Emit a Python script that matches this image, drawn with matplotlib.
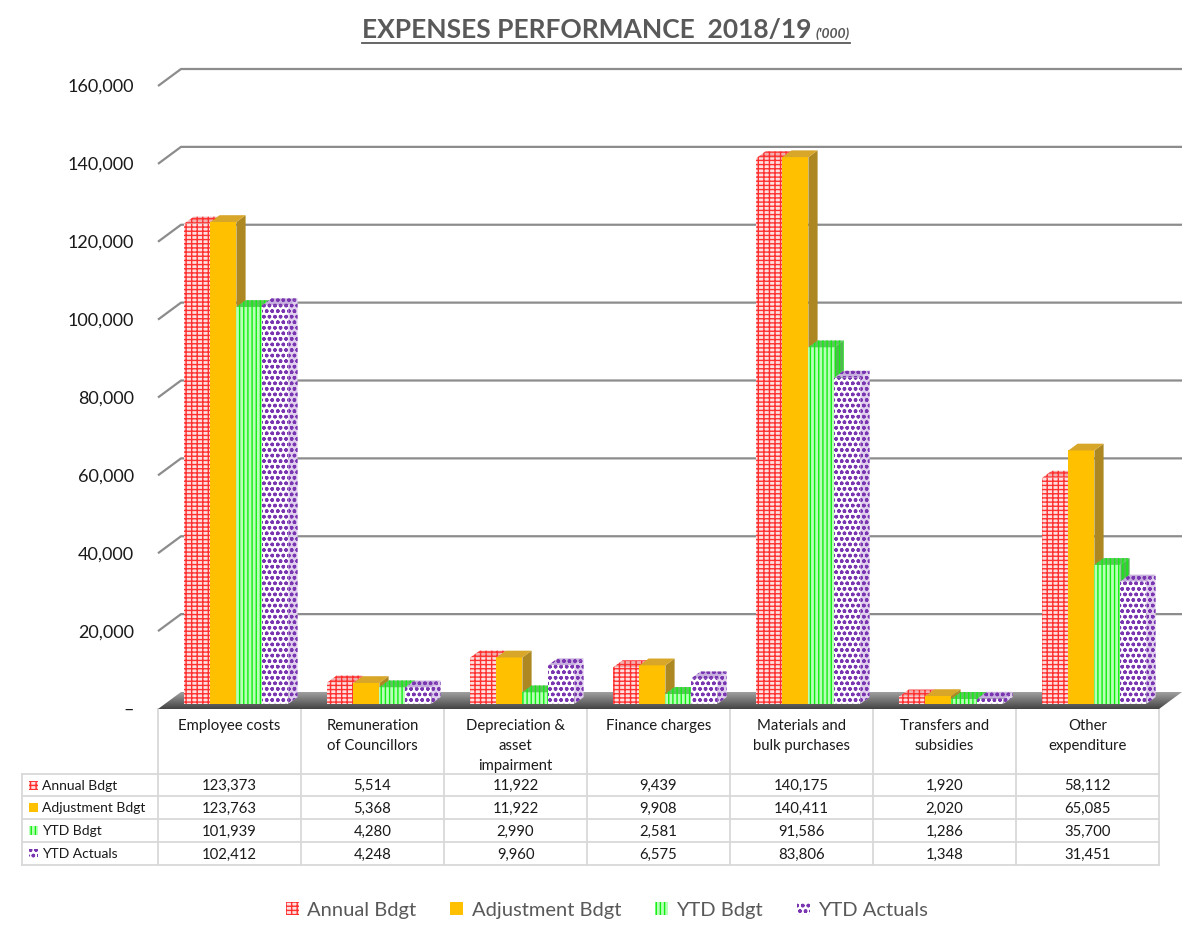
import numpy as np
import matplotlib.pyplot as plt
import matplotlib.transforms as mtransforms
from matplotlib.patches import Polygon, Rectangle, Patch

plt.rcParams['font.family'] = ['Lato', 'DejaVu Sans']
plt.rcParams['hatch.linewidth'] = 1.0

categories = ["Employee costs", "Remuneration\nof Councillors", "Depreciation &\nasset\nimpairment",
              "Finance charges", "Materials and\nbulk purchases", "Transfers and\nsubsidies",
              "Other\nexpenditure"]
series = ["Annual Bdgt", "Adjustment Bdgt", "YTD Bdgt", "YTD Actuals"]
annual_bdgt = [123373, 5514, 11922, 9439, 140175, 1920, 58112]
adjustment_bdgt = [123763, 5368, 11922, 9908, 140411, 2020, 65085]
ytd_bdgt = [101939, 4280, 2990, 2581, 91586, 1286, 35700]
ytd_actuals = [102412, 4248, 9960, 6575, 83806, 1348, 31451]
yticks = [0, 20000, 40000, 60000, 80000, 100000, 120000, 140000, 160000]

values = [annual_bdgt, adjustment_bdgt, ytd_bdgt, ytd_actuals]

# face / top / side colours and hatch for every series
styles = [
    dict(front='#ffe0e0', top='#f0b0b0', side='#f5c4c4', hatch='----|||', hc='#ff3030'),
    dict(front='#ffc000', top='#d8a628', side='#ad8822', hatch=None, hc=None),
    dict(front='#b8ffb8', top='#5ec45e', side='#52b852', hatch='||||', hc='#10ee10'),
    dict(front='white', top='#c8b0de', side='#e0d0ee', hatch='ooo...', hc='#7a35b0'),
]

W, H = 1195, 928
fig = plt.figure(figsize=(W / 100, H / 100), dpi=100)
ax = fig.add_axes([0, 0, 1, 1])

# pixel geometry of the plot (one category column = 143 px)
col_px, x0_px, y0_px = 143, 158, 710
vpp = 160000 / 623
ax.set_xlim(-0.5 - x0_px / col_px, -0.5 + (W - x0_px) / col_px)
ax.set_ylim(-(H - y0_px) * vpp, y0_px * vpp)
ax.axis('off')

n = len(categories)
dep_x, dep_y = 23 / col_px, 17 * vpp
bw = 26 / col_px
f0, fd = 0.3, 0.4

# floor with a gradient
floor = Polygon([(-0.5, 0), (n - 0.5, 0), (n - 0.5 + dep_x, dep_y), (-0.5 + dep_x, dep_y)],
                closed=True, facecolor='none', edgecolor='none')
ax.add_patch(floor)
grad = np.linspace(0, 1, 50).reshape(-1, 1)
im = ax.imshow(grad, extent=(-0.5, n - 0.5 + dep_x, 0, dep_y), origin='lower',
               cmap=plt.matplotlib.colors.LinearSegmentedColormap.from_list('fl', ['#444444', '#a0a0a0']),
               aspect='auto', zorder=1)
im.set_clip_path(floor)

# gridlines on the back wall with the left diagonal
for v in yticks[1:]:
    ax.plot([-0.5, -0.5 + dep_x, n - 0.5 + dep_x], [v, v + dep_y, v + dep_y],
            color='#8c8c8c', lw=1.6, zorder=0.5, solid_capstyle='butt')

# y labels
for v in yticks:
    ax.text(-0.5 - 24 / col_px, v, f"{v:,}" if v else "–", ha='right', va='center',
            fontsize=13, color='#1a1a1a')

# 3D bars
fx, fy = f0 * dep_x, f0 * dep_y
dx, dy = fd * dep_x, fd * dep_y
for i in range(n):
    left = i + fx - 2 * bw
    for j, vals in enumerate(values):
        v = vals[i]
        st = styles[j]
        x = left + j * bw
        kw = dict(edgecolor=st['hc'] if st['hc'] else 'none', linewidth=0, hatch=st['hatch'])
        side = Polygon([(x + bw, fy), (x + bw + dx, fy + dy), (x + bw + dx, fy + v + dy), (x + bw, fy + v)],
                       facecolor=st['side'], zorder=2, **kw)
        ax.add_patch(side)
        ax.bar(x, v, width=bw, bottom=fy, align='edge', color=st['front'], zorder=2, **kw)
        top = Polygon([(x, fy + v), (x + bw, fy + v), (x + bw + dx, fy + v + dy), (x + dx, fy + v + dy)],
                      facecolor=st['top'], zorder=2, **kw)
        ax.add_patch(top)

# title
title = fig.text(362 / W, 1 - 38 / H, "EXPENSES PERFORMANCE  2018/19", fontsize=19,
                 fontweight='bold', color='#595959', ha='left', va='baseline')
fig.canvas.draw()
r = fig.canvas.get_renderer()
bb = title.get_window_extent(r)
sub = fig.text(bb.x1 / W + 4 / W, 1 - 38 / H, "('000)", fontsize=10, fontstyle='italic',
               fontweight='bold', color='#595959', ha='left', va='baseline')
bb2 = sub.get_window_extent(r)
fig.add_artist(plt.Line2D([bb.x0 / W, bb2.x1 / W], [1 - 44 / H, 1 - 44 / H],
                          color='#595959', lw=1.3))

# data table
tr = mtransforms.blended_transform_factory(ax.transData, ax.transAxes)
ty = lambda px: 1 - px / H
row_lines = [775, 797, 820, 843, 866]
tbl_left = -0.5 - (x0_px - 22) / col_px
line_kw = dict(color='#d9d9d9', lw=1.3, transform=tr, zorder=0.5)
for k in range(n + 1):
    ax.plot([k - 0.5, k - 0.5], [ty(y0_px), ty(row_lines[-1])], **line_kw)
ax.plot([tbl_left, tbl_left], [ty(row_lines[0]), ty(row_lines[-1])], **line_kw)
for y in row_lines:
    ax.plot([tbl_left, n - 0.5], [ty(y), ty(y)], **line_kw)

for i, cat in enumerate(categories):
    ax.text(i, ty(719), cat, transform=tr, ha='center', va='top', fontsize=10.7,
            color='#1a1a1a', linespacing=1.55)
    for j, vals in enumerate(values):
        yc = (row_lines[j] + row_lines[j + 1]) / 2
        ax.text(i, ty(yc), f"{vals[i]:,}", transform=tr, ha='center', va='center',
                fontsize=10.7, color='#1a1a1a')

key_x = -0.5 - (x0_px - 29) / col_px
for j, name in enumerate(series):
    st = styles[j]
    yc = (row_lines[j] + row_lines[j + 1]) / 2
    ax.add_patch(Rectangle((key_x, ty(yc + 4.5)), 9 / col_px, 9 / H, transform=tr,
                           facecolor=st['front'], edgecolor=st['hc'] if st['hc'] else 'none',
                           linewidth=0, hatch=st['hatch']))
    ax.text(key_x + 13 / col_px, ty(yc), name, transform=tr, ha='left', va='center',
            fontsize=10, color='#1a1a1a')

# legend
handles = [Patch(facecolor=st['front'], edgecolor=st['hc'] if st['hc'] else 'none',
                 linewidth=0, hatch=st['hatch']) for st in styles]
fig.legend(handles, series, loc='center', bbox_to_anchor=(607 / W, 1 - 911 / H), ncol=4,
           frameon=False, fontsize=14.5, labelcolor='#595959', handlelength=0.65,
           handleheight=0.65, handletextpad=0.4, columnspacing=1.7)

fig.savefig('out.png', dpi=100)
